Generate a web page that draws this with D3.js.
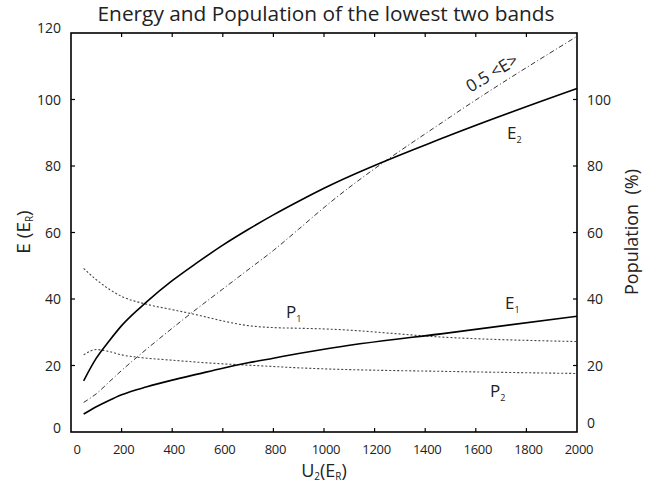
<!DOCTYPE html>
<html><head><meta charset="utf-8">
<script src="https://cdn.jsdelivr.net/npm/d3@7"></script>
<style>body{margin:0;background:#fff}svg text{font-family:"Open Sans",sans-serif;fill:#222}</style>
</head><body>
<svg id="c" width="657" height="487"></svg>
<script>
const U2 = [50, 100, 150, 200, 300, 400, 500, 600, 700, 800, 900, 1000, 1500, 2000];
const E2 = [15.4, 22.2, 27.3, 32.0, 39.2, 45.5, 51.0, 56.2, 60.9, 65.3, 69.4, 73.3, 89.3, 103.3];
const E1 = [5.4, 7.6, 9.5, 11.2, 13.6, 15.6, 17.4, 19.2, 20.8, 22.2, 23.6, 24.9, 29.9, 34.8];
const halfE = [8.9, 11.5, 15.0, 18.5, 25.0, 31.2, 37.2, 43.0, 48.8, 54.6, 61.0, 67.5, 94.8, 119.0];
const P1 = [49.2, 45.8, 43.0, 40.8, 38.4, 36.8, 35.2, 33.4, 32.0, 31.4, 31.2, 31.0, 28.4, 27.2];
const P2 = [23.2, 24.8, 24.2, 23.2, 22.2, 21.6, 21.0, 20.5, 20.1, 19.7, 19.3, 19.0, 18.2, 17.6];
const xTicks = [0, 200, 400, 600, 800, 1000, 1200, 1400, 1600, 1800, 2000];
const eTicks = [0, 20, 40, 60, 80, 100, 120];
const pTicks = [0, 20, 40, 60, 80, 100];

const svg = d3.select("#c");
const L = 71, R = 577, T = 33, B = 432;
const x = d3.scaleLinear().domain([0, 2000]).range([L, R]);
const yE = d3.scaleLinear().domain([0, 120]).range([B, T]);
const yP = d3.scaleLinear().domain([0, 120]).range([B, T]);

function fit(sel, w) {
  const n = sel.node(); let fs = parseFloat(sel.attr("font-size"));
  const cur = n.getComputedTextLength(); sel.attr("font-size", fs * w / cur);
}

// title
const title = svg.append("text").attr("x", 326).attr("y", 21).attr("text-anchor", "middle")
  .attr("font-size", 18).text("Energy and Population of the lowest two bands");
fit(title, 457);

// frame
svg.append("rect").attr("x", L).attr("y", T).attr("width", R - L).attr("height", B - T)
  .attr("fill", "none").attr("stroke", "#000").attr("stroke-width", 1.6);

const tl = 4;
const inner = xTicks.filter(d => d > 0 && d < 2000);
svg.append("g").selectAll("line").data(inner).join("line")
  .attr("x1", d => x(d)).attr("x2", d => x(d)).attr("y1", B).attr("y2", B - tl)
  .attr("stroke", "#000").attr("stroke-width", 1.2);
svg.append("g").selectAll("line").data(inner).join("line")
  .attr("x1", d => x(d)).attr("x2", d => x(d)).attr("y1", T).attr("y2", T + tl)
  .attr("stroke", "#000").attr("stroke-width", 1.2);
svg.append("g").selectAll("text").data(xTicks).join("text")
  .attr("x", d => x(d) + (d === 0 ? 6 : 2)).attr("y", 454).attr("text-anchor", "middle")
  .attr("font-size", 13).attr("letter-spacing", -0.3).text(d => d);

// left ticks
svg.append("g").selectAll("line").data(eTicks.filter(d => d > 0 && d < 120)).join("line")
  .attr("x1", L).attr("x2", L + tl).attr("y1", d => yE(d)).attr("y2", d => yE(d))
  .attr("stroke", "#000").attr("stroke-width", 1.2);
svg.append("g").selectAll("text").data(eTicks).join("text")
  .attr("x", 61).attr("y", d => yE(d) + (d === 120 ? 0 : d === 0 ? 1 : 5)).attr("text-anchor", "end")
  .attr("font-size", 14).text(d => d);
// right ticks
svg.append("g").selectAll("line").data(pTicks.filter(d => d > 0)).join("line")
  .attr("x1", R).attr("x2", R - tl).attr("y1", d => yP(d)).attr("y2", d => yP(d))
  .attr("stroke", "#000").attr("stroke-width", 1.2);
svg.append("g").selectAll("text").data(pTicks).join("text")
  .attr("x", 587).attr("y", d => yP(d) + (d === 0 ? -4 : 5)).attr("text-anchor", "start")
  .attr("font-size", 14).text(d => d);

// axis titles
const yl = svg.append("text").attr("transform", "translate(30,232) rotate(-90)").attr("text-anchor", "middle")
  .attr("font-size", 19);
yl.append("tspan").text("E (E");
yl.append("tspan").attr("font-size", 10).attr("dy", 3).text("R");
yl.append("tspan").attr("dy", -3).text(")");

svg.append("text").attr("transform", "translate(638,232) rotate(-90)").attr("text-anchor", "middle")
  .attr("font-size", 18).attr("xml:space", "preserve").text("Population  (%)");

const xl = svg.append("text").attr("x", 324).attr("y", 477).attr("text-anchor", "middle").attr("font-size", 18);
xl.append("tspan").text("U");
xl.append("tspan").attr("font-size", 10).attr("dy", 3).text("2");
xl.append("tspan").attr("dy", -3).text("(E");
xl.append("tspan").attr("font-size", 10).attr("dy", 3).text("R");
xl.append("tspan").attr("dy", -3).text(")");

// curves
const lineE = vals => d3.line().curve(d3.curveMonotoneX).x((d, i) => x(U2[i])).y(d => yE(d))(vals);
const lineP = vals => d3.line().curve(d3.curveMonotoneX).x((d, i) => x(U2[i])).y(d => yP(d))(vals);
svg.append("path").attr("d", lineE(halfE)).attr("fill", "none").attr("stroke", "#333")
  .attr("stroke-width", 1).attr("stroke-dasharray", "5,2.5,1,2.5");
svg.append("path").attr("d", lineP(P1)).attr("fill", "none").attr("stroke", "#444")
  .attr("stroke-width", 1.1).attr("stroke-dasharray", "2,2");
svg.append("path").attr("d", lineP(P2)).attr("fill", "none").attr("stroke", "#444")
  .attr("stroke-width", 1.1).attr("stroke-dasharray", "2,2");
svg.append("path").attr("d", lineE(E2)).attr("fill", "none").attr("stroke", "#000").attr("stroke-width", 1.6);
svg.append("path").attr("d", lineE(E1)).attr("fill", "none").attr("stroke", "#000").attr("stroke-width", 1.6);

// curve labels
function lab(tx, ty, main, sub) {
  const t = svg.append("text").attr("x", tx).attr("y", ty).attr("font-size", 17);
  t.append("tspan").text(main);
  t.append("tspan").attr("font-size", 9).attr("dy", 4).text(sub);
}
lab(507, 139, "E", "2");
lab(505, 309, "E", "1");
lab(286, 318, "P", "1");
lab(490, 397, "P", "2");
svg.append("text").attr("transform", "translate(495,78) rotate(-31)").attr("text-anchor", "middle")
  .attr("font-size", 17).text("0.5 <E>");
</script>
</body></html>
